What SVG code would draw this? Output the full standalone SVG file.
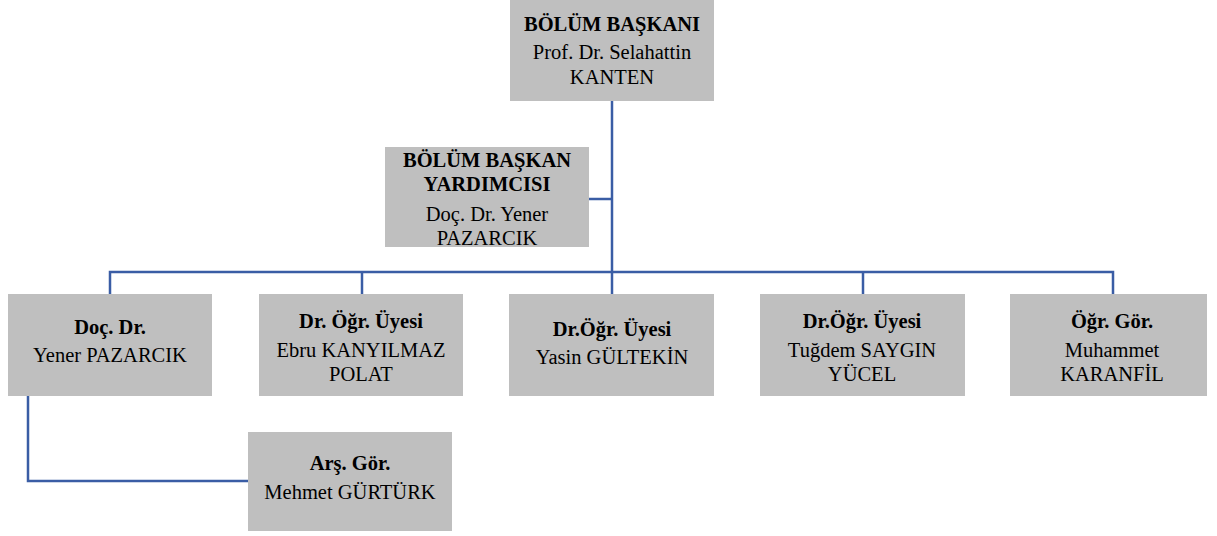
<svg xmlns="http://www.w3.org/2000/svg" width="1217" height="536" viewBox="0 0 1217 536">
<style>
.box{fill:#bfbfbf;}
.line{stroke:#3a5da5;stroke-width:2.5;fill:none;}
text{font-family:'Liberation Serif','Times New Roman',Times,serif;font-size:20.5px;fill:#000;text-anchor:middle;}
.b{font-weight:bold;}
</style>
<rect width="1217" height="536" fill="#fff"/>
<g id="connectors">
<path class="line" d="M612,101 V272"/>
<path class="line" d="M589,199 H612"/>
<path class="line" d="M110,294 V272 H1113 V294"/>
<path class="line" d="M362,272 V294"/>
<path class="line" d="M612,272 V294"/>
<path class="line" d="M863,272 V294"/>
<path class="line" d="M28,396 V481 H248"/>
</g>
<g id="n-baskan">
<rect class="box" x="510" y="0" width="204" height="101"/>
<text class="b" x="612" y="31">BÖLÜM BAŞKANI</text>
<text x="612" y="59">Prof. Dr. Selahattin</text>
<text x="612" y="84">KANTEN</text>
</g>
<g id="n-yardimci">
<rect class="box" x="385" y="147" width="204" height="100"/>
<text class="b" x="487" y="167">BÖLÜM BAŞKAN</text>
<text class="b" x="487" y="191">YARDIMCISI</text>
<text x="487" y="221">Doç. Dr. Yener</text>
<text x="487" y="245">PAZARCIK</text>
</g>
<g id="n-pazarcik">
<rect class="box" x="8" y="294" width="204" height="102"/>
<text class="b" x="110" y="334">Doç. Dr.</text>
<text x="110" y="362">Yener PAZARCIK</text>
</g>
<g id="n-polat">
<rect class="box" x="259" y="294" width="204" height="102"/>
<text class="b" x="361" y="328">Dr. Öğr. Üyesi</text>
<text x="361" y="357">Ebru KANYILMAZ</text>
<text x="361" y="381">POLAT</text>
</g>
<g id="n-gultekin">
<rect class="box" x="509" y="294" width="205" height="102"/>
<text class="b" x="612" y="336">Dr.Öğr. Üyesi</text>
<text x="612" y="364">Yasin GÜLTEKİN</text>
</g>
<g id="n-yucel">
<rect class="box" x="760" y="294" width="205" height="102"/>
<text class="b" x="862" y="328">Dr.Öğr. Üyesi</text>
<text x="862" y="357">Tuğdem SAYGIN</text>
<text x="862" y="381">YÜCEL</text>
</g>
<g id="n-karanfil">
<rect class="box" x="1010" y="294" width="197" height="102"/>
<text class="b" x="1112" y="328">Öğr. Gör.</text>
<text x="1112" y="357">Muhammet</text>
<text x="1112" y="381">KARANFİL</text>
</g>
<g id="n-gurturk">
<rect class="box" x="248" y="432" width="204" height="99"/>
<text class="b" x="350" y="470">Arş. Gör.</text>
<text x="350" y="499">Mehmet GÜRTÜRK</text>
</g>
</svg>
